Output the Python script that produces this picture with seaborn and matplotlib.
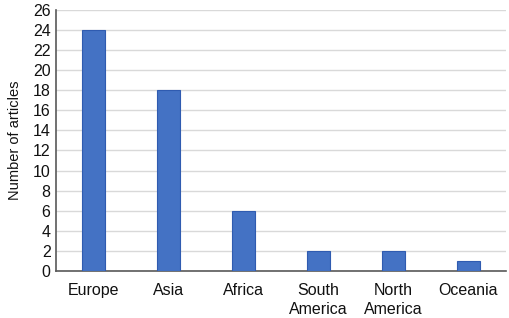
import matplotlib
matplotlib.use("Agg")
import matplotlib.pyplot as plt
import seaborn as sns
import pandas as pd

regions = ["Europe", "Asia", "Africa", "South\nAmerica", "North\nAmerica", "Oceania"]
articles = [24, 18, 6, 2, 2, 1]
y_ticks = list(range(0, 27, 2))

sns.set_style("white")
plt.rcParams['font.family'] = ['Liberation Sans Narrow', 'Liberation Sans', 'DejaVu Sans']

df = pd.DataFrame({"region": regions, "articles": articles})

fig = plt.figure(figsize=(5.1, 3.18), dpi=100)
ax = fig.add_axes([0.110, 0.148, 0.882, 0.821])
sns.barplot(data=df, x="region", y="articles", color="#4472C4", saturation=1,
            width=0.31, edgecolor="#2F5BB0", linewidth=0.8, ax=ax, zorder=3)
ax.set_ylim(0, 26)
ax.set_yticks(y_ticks)
ax.yaxis.grid(True, color="#D9D9D9", linewidth=1, zorder=0)
ax.set_axisbelow(True)
ax.set_xlabel("")
ax.set_ylabel("Number of articles", fontsize=10.5, color="#111111", labelpad=8)
ax.tick_params(axis="both", labelsize=11.5, colors="#111111", length=0, pad=4)
ax.tick_params(axis="x", pad=9)
for lbl in ax.get_xticklabels():
    lbl.set_linespacing(1.3)
for s in ["top", "right"]:
    ax.spines[s].set_visible(False)
for s in ["left", "bottom"]:
    ax.spines[s].set_color("#595959")
    ax.spines[s].set_linewidth(1.2)
fig.savefig("out.png", dpi=100)
